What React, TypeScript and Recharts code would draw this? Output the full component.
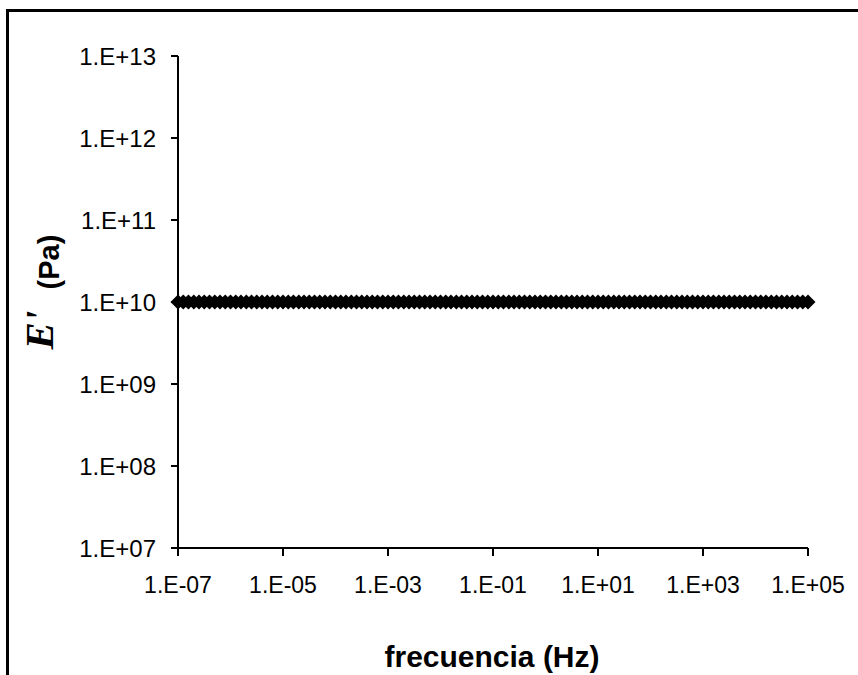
import { ScatterChart, Scatter, XAxis, YAxis, Label } from "recharts";

// frequency (Hz), 10 points per decade
const frequencies = [
  1e-7, 1.26e-7, 1.58e-7, 2e-7, 2.51e-7, 3.16e-7, 3.98e-7, 5.01e-7, 6.31e-7, 7.94e-7,
  1e-6, 1.26e-6, 1.58e-6, 2e-6, 2.51e-6, 3.16e-6, 3.98e-6, 5.01e-6, 6.31e-6, 7.94e-6,
  1e-5, 1.26e-5, 1.58e-5, 2e-5, 2.51e-5, 3.16e-5, 3.98e-5, 5.01e-5, 6.31e-5, 7.94e-5,
  1e-4, 1.26e-4, 1.58e-4, 2e-4, 2.51e-4, 3.16e-4, 3.98e-4, 5.01e-4, 6.31e-4, 7.94e-4,
  1e-3, 1.26e-3, 1.58e-3, 2e-3, 2.51e-3, 3.16e-3, 3.98e-3, 5.01e-3, 6.31e-3, 7.94e-3,
  1e-2, 1.26e-2, 1.58e-2, 2e-2, 2.51e-2, 3.16e-2, 3.98e-2, 5.01e-2, 6.31e-2, 7.94e-2,
  1e-1, 1.26e-1, 1.58e-1, 2e-1, 2.51e-1, 3.16e-1, 3.98e-1, 5.01e-1, 6.31e-1, 7.94e-1,
  1, 1.26, 1.58, 2, 2.51, 3.16, 3.98, 5.01, 6.31, 7.94,
  10, 12.6, 15.8, 20, 25.1, 31.6, 39.8, 50.1, 63.1, 79.4,
  100, 126, 158, 200, 251, 316, 398, 501, 631, 794,
  1000, 1260, 1580, 2000, 2510, 3160, 3980, 5010, 6310, 7940,
  10000, 12600, 15800, 20000, 25100, 31600, 39800, 50100, 63100, 79400,
  100000,
];

// storage modulus E' (Pa)
const modulus = [
  1e10, 1e10, 1e10, 1e10, 1e10, 1e10, 1e10, 1e10, 1e10, 1e10,
  1e10, 1e10, 1e10, 1e10, 1e10, 1e10, 1e10, 1e10, 1e10, 1e10,
  1e10, 1e10, 1e10, 1e10, 1e10, 1e10, 1e10, 1e10, 1e10, 1e10,
  1e10, 1e10, 1e10, 1e10, 1e10, 1e10, 1e10, 1e10, 1e10, 1e10,
  1e10, 1e10, 1e10, 1e10, 1e10, 1e10, 1e10, 1e10, 1e10, 1e10,
  1e10, 1e10, 1e10, 1e10, 1e10, 1e10, 1e10, 1e10, 1e10, 1e10,
  1e10, 1e10, 1e10, 1e10, 1e10, 1e10, 1e10, 1e10, 1e10, 1e10,
  1e10, 1e10, 1e10, 1e10, 1e10, 1e10, 1e10, 1e10, 1e10, 1e10,
  1e10, 1e10, 1e10, 1e10, 1e10, 1e10, 1e10, 1e10, 1e10, 1e10,
  1e10, 1e10, 1e10, 1e10, 1e10, 1e10, 1e10, 1e10, 1e10, 1e10,
  1e10, 1e10, 1e10, 1e10, 1e10, 1e10, 1e10, 1e10, 1e10, 1e10,
  1e10, 1e10, 1e10, 1e10, 1e10, 1e10, 1e10, 1e10, 1e10, 1e10,
  1e10,
];

const xTicks = [1e-7, 1e-5, 1e-3, 1e-1, 1e1, 1e3, 1e5];
const yTicks = [1e7, 1e8, 1e9, 1e10, 1e11, 1e12, 1e13];

const data = frequencies.map((f, i) => ({ f, e: modulus[i] }));

const FONT = "'Liberation Sans', Arial, sans-serif";

const sci = (v: number) => {
  const exp = Math.round(Math.log10(v));
  return `1.E${exp < 0 ? "-" : "+"}${String(Math.abs(exp)).padStart(2, "0")}`;
};

const Diamond = (props: any) => {
  const { cx, cy } = props;
  if (cx == null || cy == null) return null;
  const r = 7.5;
  return (
    <polygon
      points={`${cx - r},${cy} ${cx},${cy - r} ${cx + r},${cy} ${cx},${cy + r}`}
      fill="#000"
    />
  );
};

export default function App() {
  return (
    <div style={{ position: "absolute", left: 0, top: 0, width: 858, height: 675, background: "#fff", overflow: "hidden" }}>
      <div
        style={{
          position: "absolute",
          left: 6,
          top: 9,
          width: 900,
          height: 700,
          borderLeft: "3px solid #000",
          borderTop: "3px solid #000",
        }}
      />
      <ScatterChart
        width={858}
        height={675}
        margin={{ top: 56, right: 50, bottom: 0, left: 0 }}
        style={{ position: "absolute", left: 0, top: 0 }}
      >
        <XAxis
          type="number"
          dataKey="f"
          scale="log"
          domain={[1e-7, 1e5]}
          ticks={xTicks}
          tickFormatter={sci}
          height={127}
          interval={0}
          axisLine={{ stroke: "#000", strokeWidth: 2 }}
          tickLine={{ stroke: "#000", strokeWidth: 2 }}
          tickSize={8}
          tickMargin={21}
          tick={{ fill: "#000", fontSize: 23, fontFamily: FONT }}
        >
          <Label
            content={() => (
              <text x={492} y={667} textAnchor="middle" fontFamily={FONT} fontWeight="bold" fontSize={30} fill="#000">
                frecuencia (Hz)
              </text>
            )}
          />
        </XAxis>
        <YAxis
          type="number"
          dataKey="e"
          scale="log"
          domain={[1e7, 1e13]}
          ticks={yTicks}
          tickFormatter={sci}
          width={178}
          interval={0}
          axisLine={{ stroke: "#000", strokeWidth: 2 }}
          tickLine={{ stroke: "#000", strokeWidth: 2 }}
          tickSize={7}
          tickMargin={15}
          tick={{ fill: "#000", fontSize: 24, fontFamily: FONT }}
        >
          <Label
            content={() => (
              <g>
                <text
                  transform="translate(53,330) rotate(-90)"
                  textAnchor="middle"
                  fontFamily="'Liberation Serif', 'Times New Roman', serif"
                  fontStyle="italic"
                  fontWeight="bold"
                  fontSize={41}
                  fill="#000"
                >
                  E'
                </text>
                <text
                  transform="translate(59,262) rotate(-90)"
                  textAnchor="middle"
                  fontFamily={FONT}
                  fontWeight="bold"
                  fontSize={29}
                  fill="#000"
                >
                  (Pa)
                </text>
              </g>
            )}
          />
        </YAxis>
        <Scatter data={data} shape={Diamond} isAnimationActive={false} />
      </ScatterChart>
    </div>
  );
}
